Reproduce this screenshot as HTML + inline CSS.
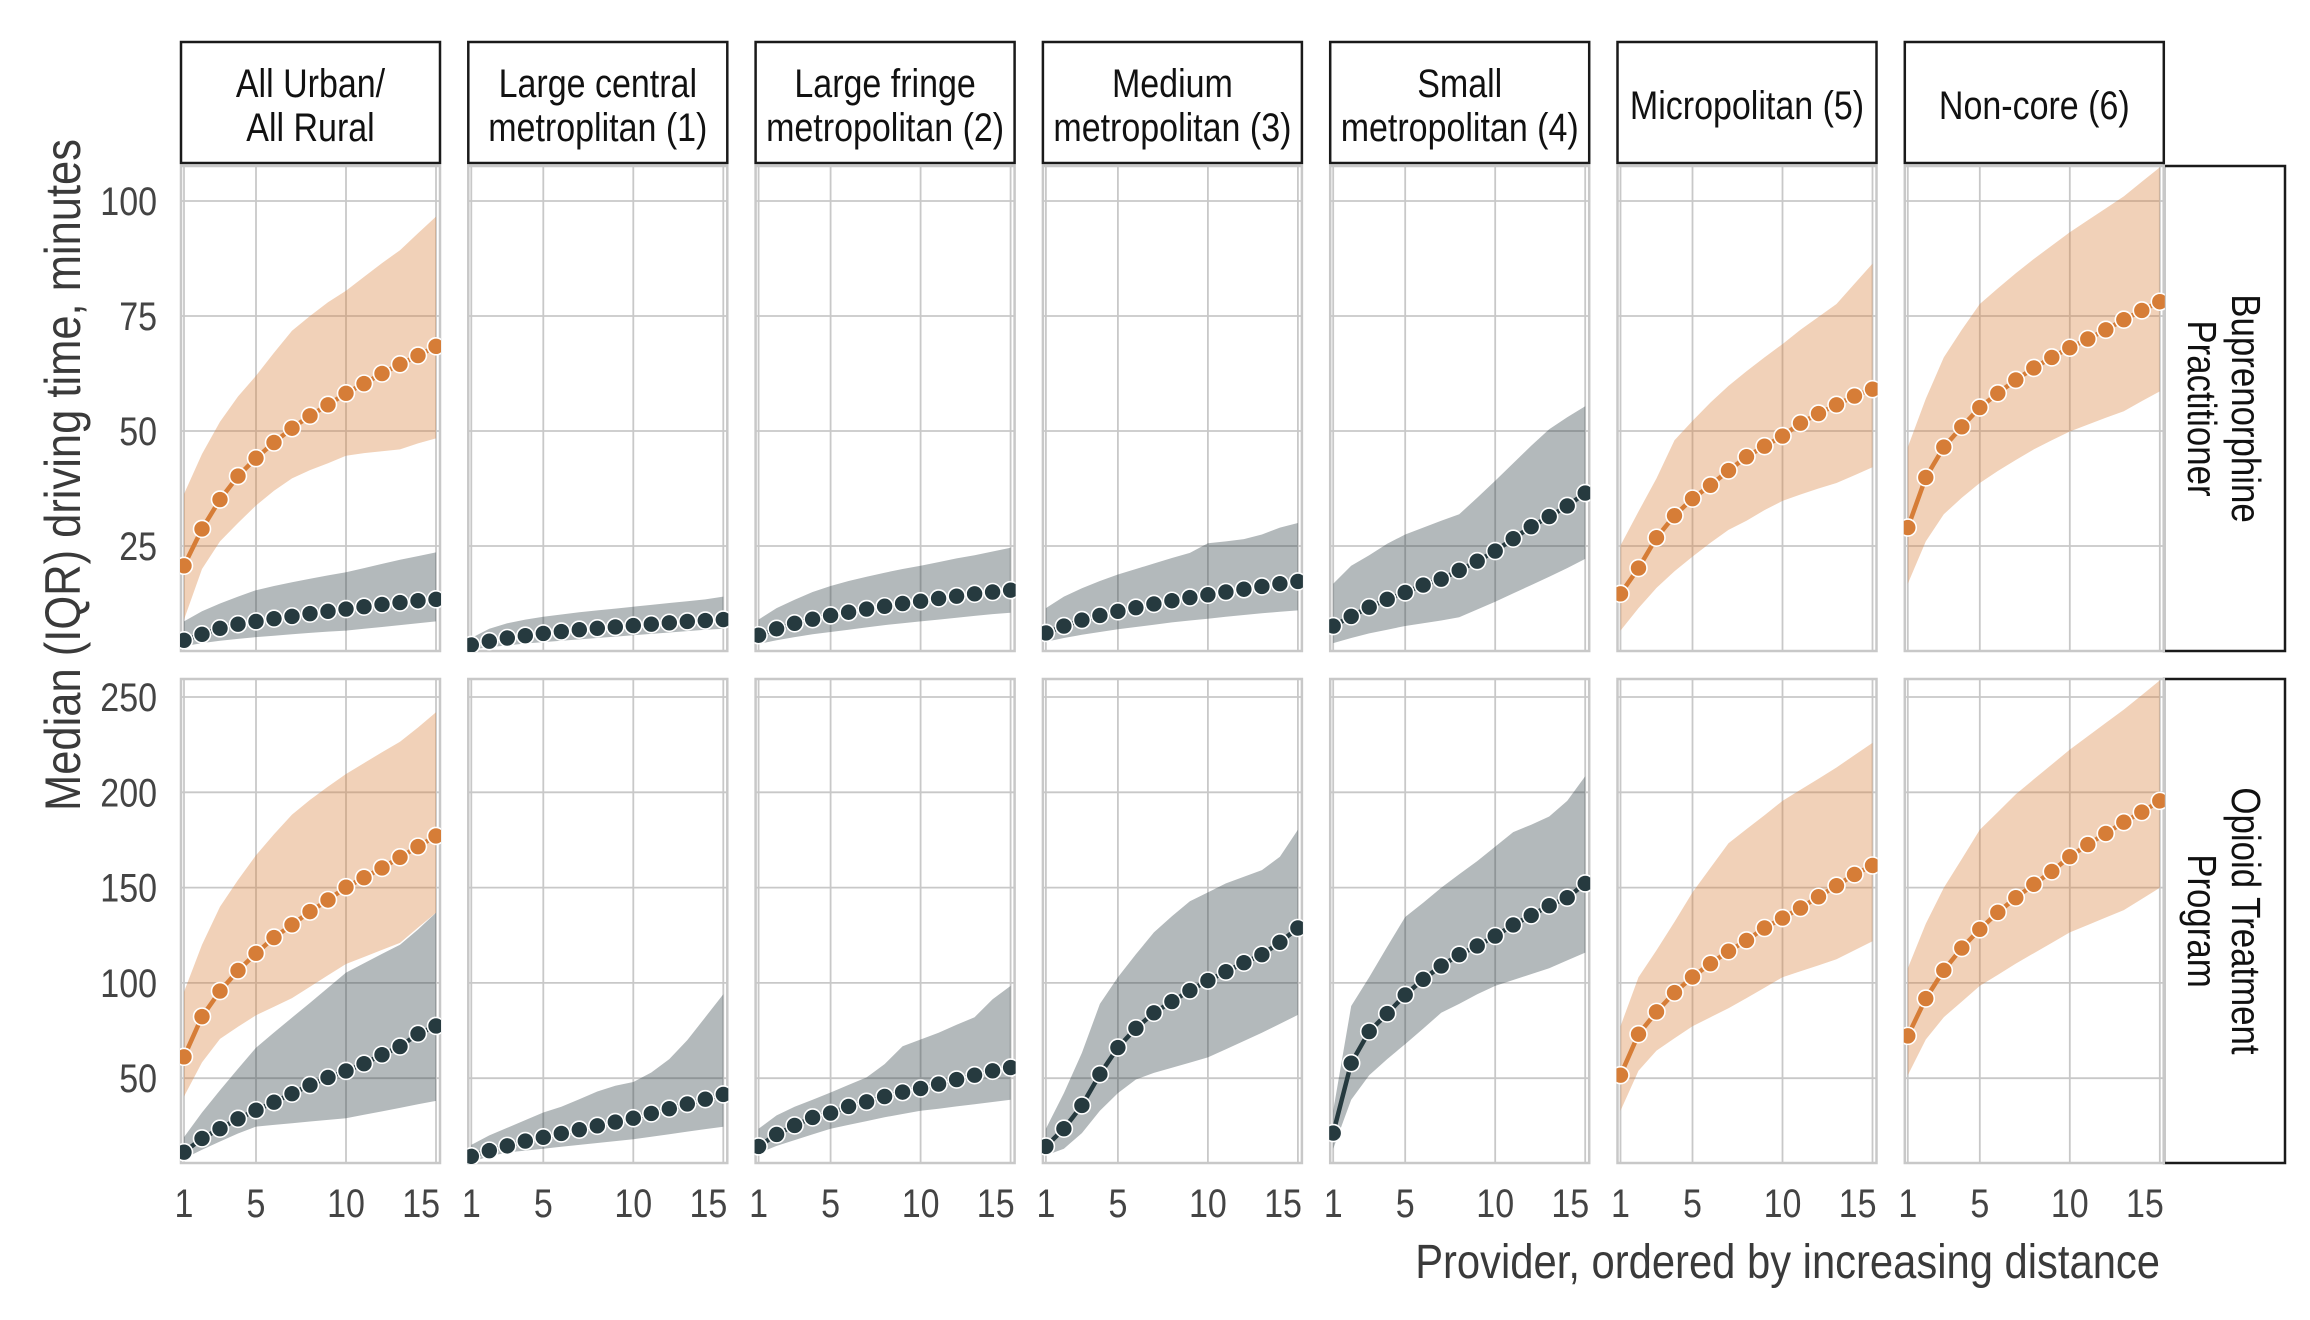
<!DOCTYPE html>
<html><head><meta charset="utf-8"><style>
html,body{margin:0;padding:0;background:#fff;}
svg{display:block;}
text{font-family:"Liberation Sans Narrow","Liberation Sans",sans-serif;}
</style></head>
<body>
<svg id="chart" width="2310" height="1320" viewBox="0 0 2310 1320" xmlns="http://www.w3.org/2000/svg">
<text x="0" y="0" transform="translate(80,475) rotate(-90) scale(0.87,1)" text-anchor="middle" font-size="50" fill="#3a3a3a">Median (IQR) driving time, minutes</text>
<text x="0" y="0" transform="translate(2160,1278) scale(0.87,1)" text-anchor="end" font-size="48" fill="#3a3a3a">Provider, ordered by increasing distance</text>
</svg>
<script>
const NS='http://www.w3.org/2000/svg';
const svg=document.getElementById('chart');
const providers=[1,2,3,4,5,6,7,8,9,10,11,12,13,14,15];
const xTicks=[1,5,10,15];
const columnLabels=[["All Urban/","All Rural"],["Large central","metroplitan (1)"],["Large fringe","metropolitan (2)"],["Medium","metropolitan (3)"],["Small","metropolitan (4)"],["Micropolitan (5)"],["Non-core (6)"]];
const rowLabels=[["Buprenorphine","Practitioner"],["Opioid Treatment","Program"]];
const topTicks=[100,75,50,25];
const bottomTicks=[250,200,150,100,50];

const bupRuralMed0=[20.7,28.7,35.1,40.2,44.1,47.5,50.6,53.3,55.7,58.2,60.3,62.5,64.5,66.4,68.4];
const bupRuralHi0=[36.3,45,52,57.5,62,67,71.8,75,78,80.5,83.5,86.5,89.3,93,96.6];
const bupRuralLo0=[9,20,26,30,33.8,37,39.7,41.5,43,44.6,45.2,45.6,46,47.3,48.4];
const bupRuralMed5=[14.6,20.2,26.8,31.6,35.3,38.2,41.4,44.4,46.7,48.9,51.7,53.8,55.7,57.6,59.1];
const bupRuralHi5=[25.1,32.5,39.7,48,52.2,56.2,59.8,63,66,68.9,72,74.8,77.6,82,86.4];
const bupRuralLo5=[6.6,11.5,15.9,19.5,22.7,25.7,28.5,30.5,32.8,34.8,36.2,37.5,38.7,40.4,42.1];
const bupRuralMed6=[29,39.9,46.5,50.9,55.1,58.2,61.1,63.7,66,68.1,70,72,74.2,76.2,78.1];
const bupRuralHi6=[46.5,57,66,72,77.6,81,84.3,87.4,90.3,93.2,95.8,98.4,101,104.2,107.3];
const bupRuralLo6=[16.8,26,31.9,35.5,38.7,41.3,43.7,46,48,49.9,51.4,52.9,54.3,56.5,58.6];
const bupUrbanMed0=[4.5,5.8,7.1,8,8.6,9.2,9.7,10.3,10.8,11.3,11.8,12.3,12.7,13.1,13.4];
const bupUrbanHi0=[8.6,10.8,12.5,14,15.4,16.3,17.1,17.9,18.6,19.3,20.2,21.1,22,22.8,23.6];
const bupUrbanLo0=[3.2,3.9,4.4,4.8,5.2,5.5,5.8,6.1,6.4,6.6,7,7.4,7.8,8.2,8.6];
const bupUrbanMed1=[3.5,4.3,5,5.5,6,6.4,6.8,7.1,7.4,7.7,8,8.3,8.6,8.8,9];
const bupUrbanHi1=[5,7,8.2,9,9.6,10.1,10.6,11,11.4,11.8,12.2,12.6,13,13.4,14];
const bupUrbanLo1=[2.5,3,3.4,3.8,4.1,4.4,4.7,5,5.3,5.6,5.9,6.2,6.5,6.8,7];
const bupUrbanMed2=[5.6,7,8.2,9.1,9.9,10.6,11.3,11.9,12.5,13,13.6,14.1,14.6,15,15.4];
const bupUrbanHi2=[9,11.5,13.3,15,16.3,17.4,18.3,19.2,20,20.7,21.5,22.3,23,23.8,24.6];
const bupUrbanLo2=[3.7,4.5,5.2,5.8,6.3,6.8,7.3,7.8,8.2,8.6,9,9.4,9.8,10.2,10.5];
const bupUrbanMed3=[6.1,7.6,8.9,9.9,10.8,11.6,12.4,13.1,13.8,14.4,15,15.6,16.2,16.8,17.3];
const bupUrbanHi3=[11.5,14,15.8,17.4,18.8,20,21.2,22.4,23.5,25.6,26,26.5,27.5,29,30];
const bupUrbanLo3=[4.2,5,5.7,6.3,6.9,7.4,7.9,8.4,8.8,9.2,9.6,10,10.4,10.7,11];
const bupUrbanMed4=[7.6,9.7,11.7,13.4,14.9,16.5,17.8,19.7,21.7,23.9,26.6,29.2,31.4,33.7,36.5];
const bupUrbanHi4=[16.8,20.7,23,25.5,27.5,29,30.5,31.9,35.5,39.2,43,46.8,50.4,53,55.4];
const bupUrbanLo4=[3.9,5,6,6.8,7.6,8.2,8.8,9.5,11.2,12.9,14.7,16.5,18.3,20.2,22.2];
const otpRuralMed0=[61.2,82.3,95.7,106.5,115.5,123.8,130.5,137.4,143.5,150.2,155.2,160.3,165.9,171.5,177.1];
const otpRuralHi0=[95.3,120,140,154,167,178,188.3,196,203,209.6,215.3,221,226.5,234,242];
const otpRuralLo0=[40.4,58.3,70.6,77,83,87.5,92,98,104,109.9,113.6,117.3,121,129,136.8];
const otpRuralMed5=[51.6,73.1,84.8,94.9,103.1,110.1,116.6,122.3,128.8,134,139.3,145.2,151,156.9,161.6];
const otpRuralHi5=[77.3,103,117.1,132,147.5,160.4,173.3,180.7,188,195.5,201.3,207.1,213,219.5,225.9];
const otpRuralLo5=[32.9,53.9,64.5,71,77.3,82,86.7,92,97.5,103,106.1,109.2,112.4,117.1,121.8];
const otpRuralMed6=[72.2,91.8,106.6,118.3,128.1,137,144.7,151.7,158.5,166.2,172.6,178.4,184.3,189.6,195.5];
const otpRuralHi6=[107.7,131,149.9,165,180.3,189.6,199,206.8,214.6,222.4,229.4,236.4,243.4,251,258.7];
const otpRuralLo6=[51.6,70.3,82,90.2,98.4,104.2,110.1,115.6,121,126.5,130.4,134.3,138.2,144,149.9];
const otpUrbanMed0=[11.2,18.4,23.5,28.7,33.2,37.4,41.9,46.4,50.4,53.8,57.6,62.3,66.6,73.3,77.4];
const otpUrbanHi0=[19.1,32,43.7,55,66,74,81.8,89.5,97.5,105.4,110.3,115.2,120,128,136.8];
const otpUrbanLo0=[7.8,12.5,16.8,21,24.6,25.5,26.4,27.3,28.1,29,30.8,32.6,34.4,36.3,38.1];
const otpUrbanMed1=[9,12,14.5,17,19,21,23,25,27,29,31.5,34,36.5,39,41.5];
const otpUrbanHi1=[15,20,24,28,32,35,39,43,46,48,53,60,70,82,94];
const otpUrbanLo1=[6,9,11,12,13,14,15,16,17,18,19.3,20.6,22,23.3,24.5];
const otpUrbanMed2=[14.2,20.5,25.2,29.4,31.7,35.2,37.6,40.4,42.7,44.6,46.9,49.3,51.6,53.9,55.6];
const otpUrbanHi2=[23.5,30.5,35,38.7,42.5,46.5,50.4,57.4,66.8,70.3,73.8,78,82,91.4,98.4];
const otpUrbanLo2=[10.6,14.5,17.5,20.5,23.5,25.5,27.5,29.5,31.2,32.9,34,35.2,36.3,37.5,38.7];
const otpUrbanMed3=[14.2,23.5,35.7,52.1,66.1,76.2,84.3,90.2,96,101.2,105.9,110.6,114.8,121.3,128.8];
const otpUrbanHi3=[23.5,42.2,63.3,89,103,115,126.5,135,142.8,147.5,152.2,155.7,159.2,166.2,180.3];
const otpUrbanLo3=[9.5,13,21.2,32.9,42.2,49.3,52.8,55.5,58.2,60.9,65.2,69.5,73.8,78.5,83.2];
const otpUrbanMed4=[21.2,57.9,74.5,83.9,93.7,101.9,108.9,114.8,119.4,124.6,130.4,135.4,140.5,144.7,152.2];
const otpUrbanHi4=[32.9,87.9,103,119,134.6,142,149.9,157,163.9,171.5,179.1,183,187.3,195.5,208.4];
const otpUrbanLo4=[13,38.7,51.6,60,67.9,76,84.3,89,94,98.4,101.5,104.6,107.7,111.8,115.9];

const panelsTop=[
 {c:0,s:[[bupUrbanMed0,bupUrbanLo0,bupUrbanHi0,'urban'],[bupRuralMed0,bupRuralLo0,bupRuralHi0,'rural']]},
 {c:1,s:[[bupUrbanMed1,bupUrbanLo1,bupUrbanHi1,'urban']]},
 {c:2,s:[[bupUrbanMed2,bupUrbanLo2,bupUrbanHi2,'urban']]},
 {c:3,s:[[bupUrbanMed3,bupUrbanLo3,bupUrbanHi3,'urban']]},
 {c:4,s:[[bupUrbanMed4,bupUrbanLo4,bupUrbanHi4,'urban']]},
 {c:5,s:[[bupRuralMed5,bupRuralLo5,bupRuralHi5,'rural']]},
 {c:6,s:[[bupRuralMed6,bupRuralLo6,bupRuralHi6,'rural']]}];
const panelsBottom=[
 {c:0,s:[[otpUrbanMed0,otpUrbanLo0,otpUrbanHi0,'urban'],[otpRuralMed0,otpRuralLo0,otpRuralHi0,'rural']]},
 {c:1,s:[[otpUrbanMed1,otpUrbanLo1,otpUrbanHi1,'urban']]},
 {c:2,s:[[otpUrbanMed2,otpUrbanLo2,otpUrbanHi2,'urban']]},
 {c:3,s:[[otpUrbanMed3,otpUrbanLo3,otpUrbanHi3,'urban']]},
 {c:4,s:[[otpUrbanMed4,otpUrbanLo4,otpUrbanHi4,'urban']]},
 {c:5,s:[[otpRuralMed5,otpRuralLo5,otpRuralHi5,'rural']]},
 {c:6,s:[[otpRuralMed6,otpRuralLo6,otpRuralHi6,'rural']]}];

const PL=180, PSTEP=287.3, PW=261, SX=0.85;
const rows=[{top:165,bot:652,ticks:topTicks,y:v=>201+(100-v)*4.6,panels:panelsTop},
            {top:678,bot:1164,ticks:bottomTicks,y:v=>697+(250-v)*1.906,panels:panelsBottom}];
const colors={rural:{line:'#d67d37',band:'#d97f3a'},urban:{line:'#263a3f',band:'#2b3d42'}};
function xs(c,v){return PL+PSTEP*c+4+(v-1)*18;}
function mk(tag,attrs,parent){const e=document.createElementNS(NS,tag);for(const k in attrs)e.setAttribute(k,attrs[k]);(parent||svg).appendChild(e);return e;}
function txt(x,y,s,anchor,size,fill,parent,extra){
  const t=mk('text',{x:0,y:0,transform:`translate(${x},${y})${extra||''} scale(${SX},1)`,'text-anchor':anchor,'font-size':size,fill:fill},parent);
  t.textContent=s;return t;
}

columnLabels.forEach((lab,c)=>{
  const g=mk('g',{});
  
  
  const x0=PL+PSTEP*c;
  mk('rect',{x:x0+1,y:42,width:PW-2,height:121,fill:'#fff',stroke:'#1a1a1a','stroke-width':2.5},g);
  const ys=lab.length===2?[97,141]:[119];
  lab.forEach((t,i)=>{txt(x0+PW/2,ys[i],t,'middle',40,'#111',g);});
});
rowLabels.forEach((lab,r)=>{
  const g=mk('g',{});
  
  
  const R=rows[r];
  mk('rect',{x:2164,y:R.top+1,width:121,height:R.bot-R.top-2,fill:'#fff',stroke:'#1a1a1a','stroke-width':2.5},g);
  const cy=(R.top+R.bot)/2;
  const offs=[8,-36];
  lab.forEach((t,i)=>{txt(2224+offs[i],cy,t,'middle',41,'#111',g,' rotate(90)');});
});

rows.forEach((R,ri)=>{
  R.ticks.forEach(t=>{
    const tx=txt(157,R.y(t)+14,String(t),'end',40,'#444');
    
    
  });
  R.panels.forEach(P=>{
    const x0=PL+PSTEP*P.c;
    const g=mk('g',{});
    
    
    const cid='clip'+ri+'_'+P.c;
    const cp=mk('clipPath',{id:cid},g);
    mk('rect',{x:x0,y:R.top,width:PW,height:R.bot-R.top},cp);
    R.ticks.forEach(t=>{const l=mk('line',{x1:x0,x2:x0+PW,y1:R.y(t),y2:R.y(t),stroke:'#c8c8c8','stroke-width':1.8},g);});
    xTicks.forEach(t=>{const l=mk('line',{x1:xs(P.c,t),x2:xs(P.c,t),y1:R.top,y2:R.bot,stroke:'#c8c8c8','stroke-width':1.8},g);});
    mk('rect',{x:x0+1,y:R.top+1,width:PW-2,height:R.bot-R.top-2,fill:'none',stroke:'#c8c8c8','stroke-width':2.5},g);
    const inner=mk('g',{'clip-path':`url(#${cid})`},g);
    P.s.forEach(([med,lo,hi,kind])=>{
      const col=colors[kind];
      let d='';
      providers.forEach((p,i)=>{d+=(i?'L':'M')+xs(P.c,p).toFixed(1)+','+R.y(hi[i]).toFixed(1);});
      for(let i=providers.length-1;i>=0;i--)d+='L'+xs(P.c,providers[i]).toFixed(1)+','+R.y(lo[i]).toFixed(1);
      const band=mk('path',{d:d+'Z',fill:col.band,'fill-opacity':0.36},inner);
      
      
      const pts=providers.map((p,i)=>xs(P.c,p).toFixed(1)+','+R.y(med[i]).toFixed(1)).join(' ');
      const ln=mk('polyline',{points:pts,fill:'none',stroke:col.line,'stroke-width':4.5},inner);
      
      
      providers.forEach((p,i)=>{
        const c=mk('circle',{cx:xs(P.c,p),cy:R.y(med[i]),r:8.5,fill:col.line,stroke:'#fff','stroke-width':1.6},inner);
        
        
      });
    });
    if(ri===1){
      xTicks.forEach(t=>{
        const last=t===xTicks[xTicks.length-1];
        const tx=txt(last?xs(P.c,t)+4:xs(P.c,t),1217,String(t),last?'end':'middle',40,'#444',g);
        
        
      });
    }
  });
});
</script>
</body></html>
